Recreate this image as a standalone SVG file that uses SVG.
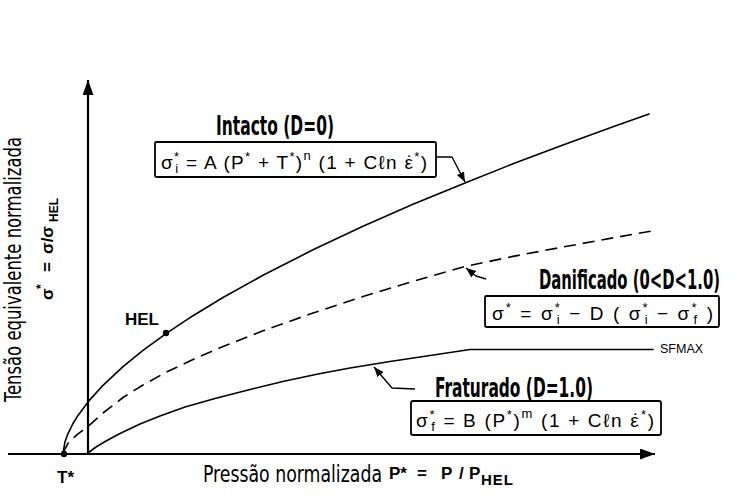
<svg xmlns="http://www.w3.org/2000/svg" width="737" height="499" viewBox="0 0 737 499">
<style>
.ax{stroke:#000;stroke-width:2.2;fill:none}
.cv{stroke:#000;stroke-width:1.6;fill:none;stroke-linejoin:round;stroke-linecap:round}
.dash{stroke-dasharray:12 7;stroke-linecap:butt}
.ld{stroke:#000;stroke-width:1.4;fill:none;stroke-linejoin:round}
.box{fill:#fff;stroke:#000;stroke-width:1.8}
.ttl{font-family:'Liberation Sans Narrow','Arial Narrow','DejaVu Sans Condensed',sans-serif;font-stretch:condensed;font-weight:bold;font-size:16px;fill:#000}
.lbl{font-family:'Liberation Sans Narrow','Arial Narrow','DejaVu Sans Condensed',sans-serif;font-stretch:condensed;font-size:18px;fill:#000}
.f{font-family:'Liberation Sans',Arial,'DejaVu Sans',sans-serif;font-size:19px;fill:#000}
.b{font-family:'Liberation Sans',Arial,'DejaVu Sans',sans-serif;font-weight:bold;fill:#000}
.sp{font-size:13px}
.sm{font-family:'Liberation Sans',Arial,sans-serif;font-size:12.5px;fill:#000}
</style>
<defs>
<marker id="lh" markerUnits="userSpaceOnUse" markerWidth="11" markerHeight="9" refX="10" refY="4" orient="auto">
<path d="M0,0 L10,4 L0,8 Z" fill="#000"/>
</marker>
<marker id="ah" markerUnits="userSpaceOnUse" markerWidth="16" markerHeight="12" refX="15" refY="5.5" orient="auto">
<path d="M0,0 L15,5.5 L0,11 Z" fill="#000"/>
</marker>
</defs>

<g id="axes">
<line class="ax" x1="8" y1="454" x2="655" y2="454" marker-end="url(#ah)"/>
<line class="ax" x1="88" y1="454" x2="88" y2="80" marker-end="url(#ah)"/>
<text class="lbl" transform="translate(21,402) rotate(-90) scale(1,1.3)" textLength="265" lengthAdjust="spacingAndGlyphs">Tensão equivalente normalizada</text>
<g transform="translate(53,300) rotate(-90)">
<text class="b" font-size="17" x="0" y="0">σ</text>
<text class="b" font-size="12" x="11" y="-8">*</text>
<text class="b" font-size="17" x="28" y="0">=</text>
<text class="b" font-size="17" x="46" y="0">σ/σ</text>
<text class="b" font-size="12" x="78" y="5">HEL</text>
</g>
<text class="lbl" transform="translate(203,482) scale(1,1.25)" textLength="179" lengthAdjust="spacingAndGlyphs">Pressão normalizada</text>
<text class="b" font-size="17" x="389" y="479">P*</text>
<text class="b" font-size="17" x="417" y="479">=</text>
<text class="b" font-size="17" x="441" y="479">P</text>
<text class="b" font-size="17" x="459" y="479">/</text>
<text class="b" font-size="17" x="469" y="479">P</text>
<text class="b" font-size="15" x="481" y="485" letter-spacing="1">HEL</text>
<text class="b" font-size="17" x="57" y="483">T*</text>
</g>

<g id="curves">
<path id="intacto-curve" class="cv" d="M63,453 L65,441.8 L68,433.6 L73,423.5 L78,415.4 L88,401.9 L103,385.3 L123,366.7 L143,350.4 L166,333.6 L193,315.7 L223,297.5 L263,275.2 L313,249.8 L363,226.3 L413,204.3 L465,182.9 L513,163.8 L563,144.9 L613,126.8 L649,114.1"/>
<path id="danificado-curve" class="cv dash" d="M63,453 L68,443.3 L73,438.3 L78,433.8 L88,426.5 L103,413 L123,397.5 L143,385 L166,372.3 L193,359.5 L223,346.6 L263,330.8 L313,313 L363,296.6 L413,281.3 L465,266.5 L513,256.4 L563,247 L613,237.9 L652,231"/>
<path id="fraturado-curve" class="cv" d="M88,453 L96,447 L106,441 L120,433.5 L140,424 L160,416 L185,407 L215,398.5 L252,389 L285,381 L318,374 L350,368 L390,361.5 L430,355.5 L470,349.5 L653,349.5"/>
<circle cx="64" cy="454" r="3.2" fill="#000"/>
<circle cx="166" cy="333" r="3.2" fill="#000"/>
<text class="b" font-size="17" x="125" y="325">HEL</text>
<text class="sm" x="660" y="353">SFMAX</text>
</g>

<g id="connectors">
<polyline class="ld" points="436,157 452,157 465,182" marker-end="url(#lh)"/>
<polyline class="ld" points="486,279 476,276 466,268" marker-end="url(#lh)"/>
<polyline class="ld" points="415,389 392,388 374,367" marker-end="url(#lh)"/>
</g>

<g id="node-intacto">
<text class="ttl" transform="translate(216,135) scale(1,1.7)" textLength="118" lengthAdjust="spacingAndGlyphs">Intacto (D=0)</text>
<rect class="box" x="155" y="142" width="281" height="35" rx="1.5"/>
<text class="f" x="161" y="169" textLength="266" lengthAdjust="spacing">σ<tspan class="sp" dy="-8">*</tspan><tspan class="sp" dx="-5" dy="12">i</tspan><tspan dy="-4"> = A (P</tspan><tspan class="sp" dy="-8">*</tspan><tspan dy="8"> + T</tspan><tspan class="sp" dy="-8">*</tspan><tspan dy="8">)</tspan><tspan class="sp" dy="-9">n</tspan><tspan dy="9"> (1 + Cℓn ε</tspan><tspan dx="-7.5">˙</tspan><tspan class="sp" dx="0" dy="-8">*</tspan><tspan dy="8">)</tspan></text>
</g>

<g id="node-danificado">
<text class="ttl" transform="translate(539,289) scale(1,1.7)" textLength="181" lengthAdjust="spacingAndGlyphs">Danificado (0&lt;D&lt;1.0)</text>
<rect class="box" x="485" y="296" width="234" height="31" rx="1.5"/>
<text class="f" x="492" y="320" textLength="221" lengthAdjust="spacing">σ<tspan class="sp" dy="-8">*</tspan><tspan dy="8"> = σ</tspan><tspan class="sp" dy="-8">*</tspan><tspan class="sp" dx="-5" dy="12">i</tspan><tspan dy="-4"> − D ( σ</tspan><tspan class="sp" dy="-8">*</tspan><tspan class="sp" dx="-5" dy="12">i</tspan><tspan dy="-4"> − σ</tspan><tspan class="sp" dy="-8">*</tspan><tspan class="sp" dx="-5" dy="12">f</tspan><tspan dy="-4"> )</tspan></text>
</g>

<g id="node-fraturado">
<text class="ttl" transform="translate(435,397) scale(1,1.7)" textLength="158" lengthAdjust="spacingAndGlyphs">Fraturado (D=1.0)</text>
<rect class="box" x="411" y="401" width="250" height="34" rx="2"/>
<text class="f" x="416" y="427" textLength="238" lengthAdjust="spacing">σ<tspan class="sp" dy="-8">*</tspan><tspan class="sp" dx="-5" dy="12">f</tspan><tspan dy="-4"> = B (P</tspan><tspan class="sp" dy="-8">*</tspan><tspan dy="8">)</tspan><tspan class="sp" dy="-9">m</tspan><tspan dy="9">  (1 + Cℓn ε</tspan><tspan dx="-7.5">˙</tspan><tspan class="sp" dx="0" dy="-8">*</tspan><tspan dy="8">)</tspan></text>
</g>
</svg>
